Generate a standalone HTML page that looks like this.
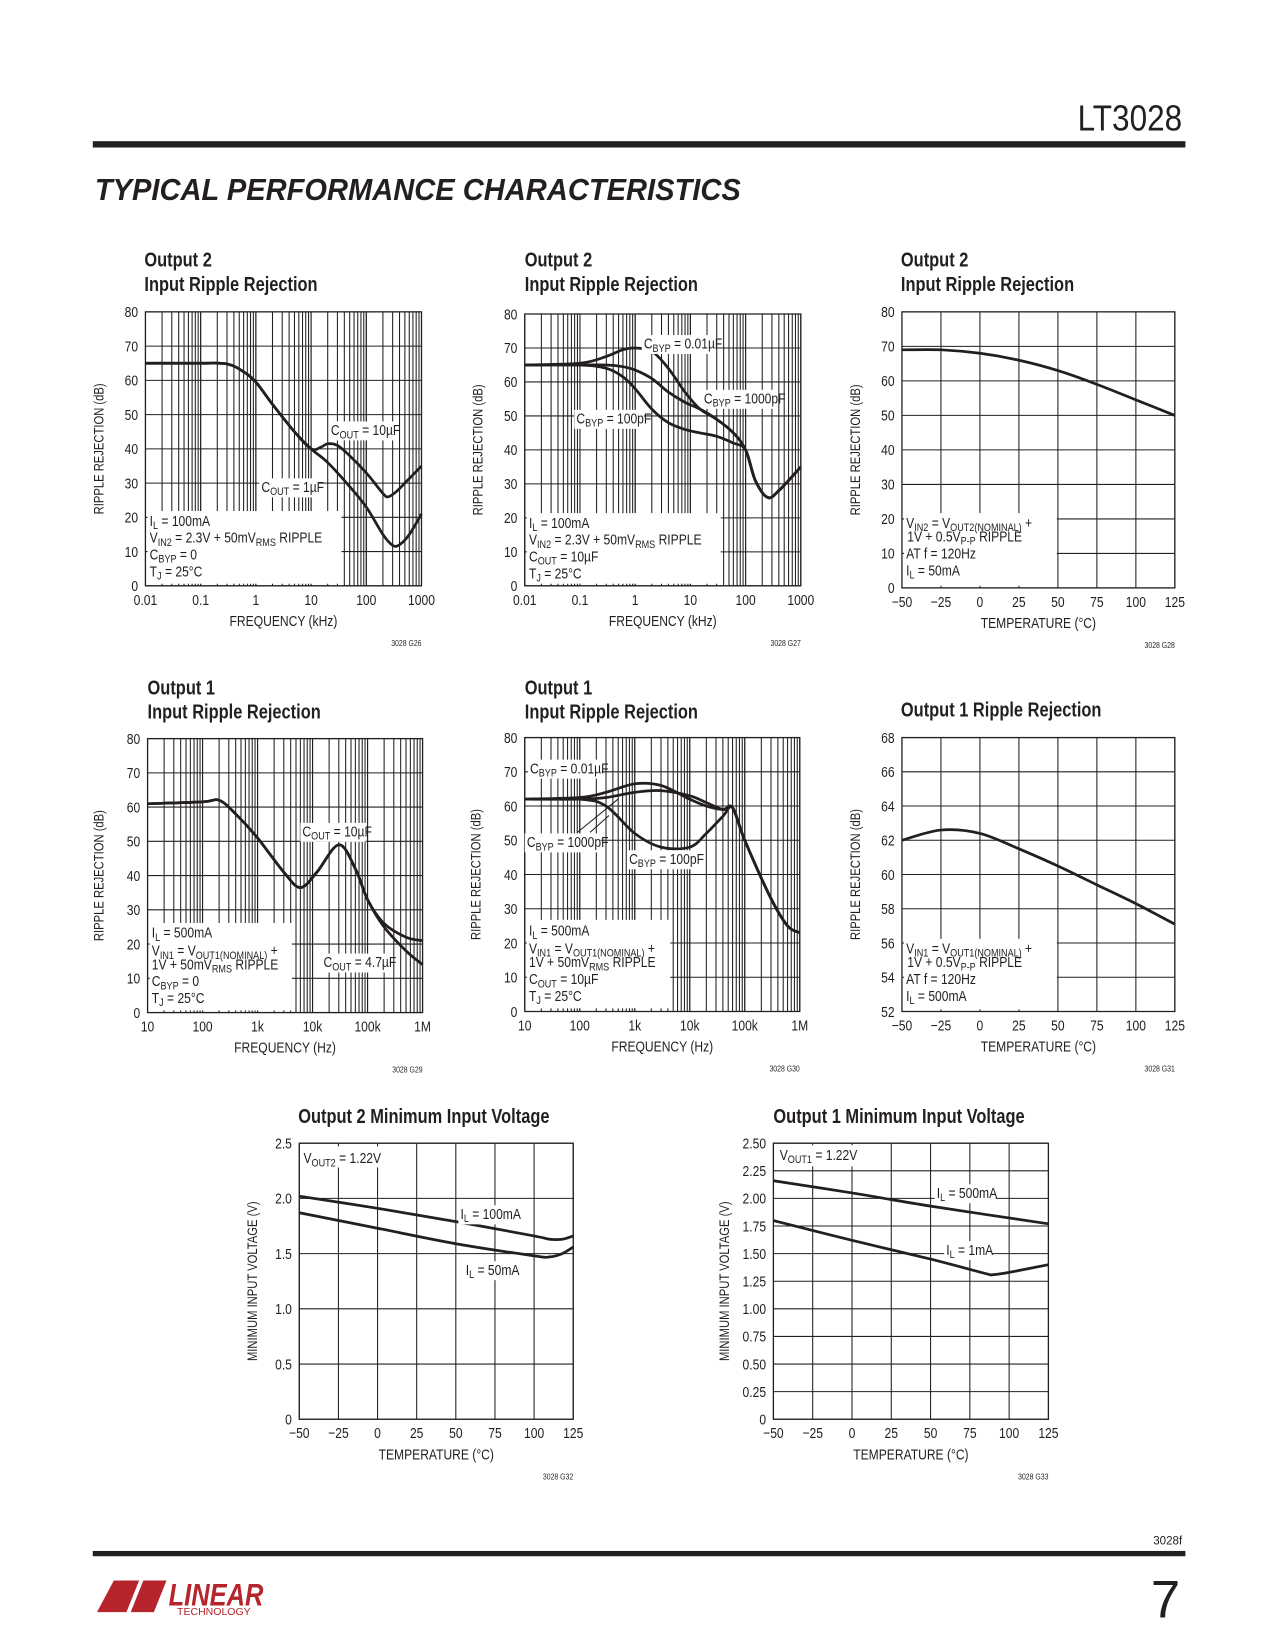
<!DOCTYPE html>
<html><head><meta charset="utf-8"><style>
html,body{margin:0;padding:0;background:#fff;}
svg{display:block;}
text{font-family:"Liberation Sans Narrow","Liberation Sans",sans-serif;fill:#231f20;}
</style></head><body>
<svg id="page" xmlns="http://www.w3.org/2000/svg" width="1275" height="1650" viewBox="0 0 1210 1566">
<text x="1122" y="124" text-anchor="end" font-size="34" style="font-family:'Liberation Sans',sans-serif" transform="matrix(0.88,0,0,1,134.6,0)">LT3028</text>
<rect x="88" y="134" width="1037" height="6" fill="#231f20"/>
<text x="90" y="190" font-size="29" font-weight="bold" font-style="italic" textLength="613" lengthAdjust="spacingAndGlyphs" style="font-family:'Liberation Sans',sans-serif">TYPICAL PERFORMANCE CHARACTERISTICS</text>
<rect x="88" y="1472" width="1037" height="5" fill="#231f20"/>
<text x="1122" y="1466" text-anchor="end" font-size="11">3028f</text>
<text x="1120" y="1535" text-anchor="end" font-size="50" style="font-family:'Liberation Sans',sans-serif">7</text>
<g>
<polygon points="92,1530 108,1500 132,1500 120,1530" fill="#b5252b"/>
<polygon points="124,1530 136,1500 158,1500 146,1530" fill="#b5252b"/>
<text x="160" y="1524" font-size="30" font-weight="bold" font-style="italic" textLength="90" lengthAdjust="spacingAndGlyphs" style="fill:#b5252b;font-family:'Liberation Sans',sans-serif">LINEAR</text>
<text x="168" y="1533" font-size="10" style="fill:#b5252b;font-family:'Liberation Sans',sans-serif">TECHNOLOGY</text>
</g>
<g id="charts"></g>
</svg>
<script>
// ---- chart data ----
// G26
const g26Freq = [0.01,0.1,0.3,0.6,1,2,5,10,15,20,30,50,100,200,250,350,500,1000];
const g26Cout10 = [65,65,64.8,62.5,59.5,53,45,40,40.5,41.5,41,38,33,27,26,27.5,30,35];
const g26Freq1 = [0.01,0.1,0.3,0.6,1,2,5,10,20,50,100,200,300,400,600,1000];
const g26Cout1 = [65,65,64.8,62.5,59.5,53,45,40,36,29,23,15,11.8,12,15,21];
// G27
const g27Freq = [0.01,0.1,0.3,0.6,1,2,4,8,15,30,60,100,150,250,400,1000];
const g27Byp001 = [65,65.5,67.5,69.5,70,69,64,57,52,49,45,40,31,26,28,35];
const g27Byp1000 = [65,65,65,64.5,63.5,61,57,54,52,49,45,40,31,26,28,35];
const g27Byp100 = [65,65,64,61.5,58,52,48,46,45,44,42,40,31,26,28,35];
// G28
const g28Temp = [-50,-25,0,25,50,75,100,125];
const g28Rej = [69,69,68,66,63,59,54.5,50];
// G29
const g29Freq = [10,100,200,400,1000,3000,6000,12000,30000,60000,100000,200000,500000,1000000];
const g29Cout10 = [61,61.5,62,58,51,41,36.5,41,49,42,33,26,22,21];
const g29Cout47 = [61,61.5,62,58,51,41,36.5,41,49,42,33,25,18,14];
// G30
const g30Freq = [10,100,300,1000,3000,10000,20000,40000,60000,100000,300000,600000,1000000];
const g30Byp001 = [62,62.5,64,66.5,66,62,60,59,59.5,50,33,25,23];
const g30Byp1000 = [62,62,62.5,64,64.5,63,61,59,59.5,50,33,25,23];
const g30Byp100 = [62,62,60,52,48,48,52,57,59.5,50,33,25,23];
// G31
const g31Temp = [-50,-25,0,25,50,75,100,125];
const g31Rej = [62,62.6,62.4,61.5,60.5,59.4,58.3,57.1];
// G32
const g32Temp = [-50,0,50,100,110,118,125];
const g32I100 = [2.02,1.91,1.79,1.66,1.63,1.63,1.66];
const g32I50 = [1.87,1.73,1.59,1.48,1.47,1.5,1.56];
// G33
const g33Temp = [-50,0,50,125];
const g33I500 = [2.16,2.05,1.93,1.77];
const g33TempB = [-50,0,50,85,90,100,125];
const g33I1 = [1.8,1.62,1.45,1.32,1.31,1.33,1.4];
// tick labels
const logKHzTicks = ["0.01","0.1","1","10","100","1000"];
const logHzTicks = ["10","100","1k","10k","100k","1M"];
const tempTicks = ["\u221250","\u221225","0","25","50","75","100","125"];
const rej80Ticks = ["0","10","20","30","40","50","60","70","80"];
const rej68Ticks = ["52","54","56","58","60","62","64","66","68"];
const v25Ticks = ["0","0.5","1.0","1.5","2.0","2.5"];
const v250Ticks = ["0","0.25","0.50","0.75","1.00","1.25","1.50","1.75","2.00","2.25","2.50"];

const NS="http://www.w3.org/2000/svg";
const SQ=0.82;
const root=document.getElementById('charts');
function el(tag,parent){const e=document.createElementNS(NS,tag);parent.appendChild(e);return e;}
function squash(t,x){t.setAttribute('transform','matrix('+SQ+',0,0,1,'+(x*(1-SQ)).toFixed(2)+',0)');}
function richText(parent,x,y,str,size,anchor){
  const t=el('text',parent);
  t.setAttribute('x',x);t.setAttribute('y',y);t.setAttribute('font-size',size);
  if(anchor)t.setAttribute('text-anchor',anchor);
  const parts=str.split(/(_\{[^}]*\})/);
  let prevSub=false;
  parts.forEach(p=>{
    if(!p)return;
    const s=el('tspan',t);
    if(p.startsWith('_{')){s.textContent=p.slice(2,-1);s.setAttribute('font-size',size*0.75);s.setAttribute('dy',3);prevSub=true;}
    else{s.textContent=p; if(prevSub)s.setAttribute('dy',-3);prevSub=false;}
  });
  squash(t,x);
  return t;
}
function smoothPath(pts){
  let d='M'+pts[0][0].toFixed(1)+','+pts[0][1].toFixed(1);
  for(let i=0;i<pts.length-1;i++){
    const p0=pts[i-1]||pts[i],p1=pts[i],p2=pts[i+1],p3=pts[i+2]||p2;
    const c1=[p1[0]+(p2[0]-p0[0])/6,p1[1]+(p2[1]-p0[1])/6];
    const c2=[p2[0]-(p3[0]-p1[0])/6,p2[1]-(p3[1]-p1[1])/6];
    d+=' C'+c1[0].toFixed(1)+','+c1[1].toFixed(1)+' '+c2[0].toFixed(1)+','+c2[1].toFixed(1)+' '+p2[0].toFixed(1)+','+p2[1].toFixed(1);
  }
  return d;
}
function chart(c){
  const g=el('g',root);
  
  
  const L=c.L,R=c.R,T=c.T,B=c.B;
  const xs=v=>c.log? L+(Math.log10(v)-Math.log10(c.xmin))/(Math.log10(c.xmax)-Math.log10(c.xmin))*(R-L) : L+(v-c.xmin)/(c.xmax-c.xmin)*(R-L);
  const ys=v=>B-(v-c.ymin)/(c.ymax-c.ymin)*(B-T);
  c.title.forEach((t,i)=>{
    const tt=el('text',g);
    
    
    tt.setAttribute('x',c.tx);tt.setAttribute('y',c.ty+i*23);tt.setAttribute('font-size',19);tt.setAttribute('font-weight','bold');tt.textContent=t;
    squash(tt,c.tx);
  });
  const grid=el('g',g);
  
  
  grid.setAttribute('stroke','#231f20');grid.setAttribute('stroke-width','1');
  const nd=c.yTicks.length-1;
  for(let i=0;i<=nd;i++){const v=c.ymin+(c.ymax-c.ymin)*i/nd;const ln=el('line',grid);ln.setAttribute('x1',L);ln.setAttribute('x2',R);ln.setAttribute('y1',ys(v));ln.setAttribute('y2',ys(v));}
  if(c.log){
    const d0=Math.log10(c.xmin),d1=Math.log10(c.xmax);
    for(let d=d0;d<d1;d++)for(let k=1;k<=10;k++){const v=k*Math.pow(10,d);const ln=el('line',grid);ln.setAttribute('x1',xs(v));ln.setAttribute('x2',xs(v));ln.setAttribute('y1',T);ln.setAttribute('y2',B);}
  } else {
    const n=c.xTicks.length-1;
    for(let i=0;i<=n;i++){const v=c.xmin+(c.xmax-c.xmin)*i/n;const ln=el('line',grid);ln.setAttribute('x1',xs(v));ln.setAttribute('x2',xs(v));ln.setAttribute('y1',T);ln.setAttribute('y2',B);}
  }
  c.yTicks.forEach((lab,i)=>{const v=c.ymin+(c.ymax-c.ymin)*i/nd;const t=el('text',g);
    
    
    t.setAttribute('x',L-7);t.setAttribute('y',ys(v)+5);t.setAttribute('font-size',14);t.setAttribute('text-anchor','end');t.textContent=lab;squash(t,L-7);});
  const nx=c.xTicks.length-1;
  c.xTicks.forEach((lab,i)=>{const px=L+(R-L)*i/nx;const t=el('text',g);
    
    
    t.setAttribute('x',px);t.setAttribute('y',B+18);t.setAttribute('font-size',14);t.setAttribute('text-anchor','middle');t.textContent=lab;squash(t,px);});
  const xt=el('text',g);
  
  
  xt.setAttribute('x',(L+R)/2);xt.setAttribute('y',B+38);xt.setAttribute('font-size',14);xt.setAttribute('text-anchor','middle');xt.textContent=c.xTitle;squash(xt,(L+R)/2);
  const yt=el('text',g);
  
  
  const yx=L-c.yOff,yy=(T+B)/2;
  yt.setAttribute('x',yx);yt.setAttribute('y',yy);yt.setAttribute('font-size',13);yt.setAttribute('text-anchor','middle');
  yt.setAttribute('transform','rotate(-90 '+yx+' '+yy+') matrix('+SQ+',0,0,1,'+(yx*(1-SQ)).toFixed(2)+',0)');yt.textContent=c.yTitle;
  const fid=el('text',g);
  
  
  fid.setAttribute('x',R);fid.setAttribute('y',B+57);fid.setAttribute('font-size',8);fid.setAttribute('text-anchor','end');fid.textContent=c.fig;squash(fid,R);
  (c.boxes||[]).forEach(b=>{const r=el('rect',g);
    
    
    r.setAttribute('x',b[0]);r.setAttribute('y',b[1]);r.setAttribute('width',b[2]);r.setAttribute('height',b[3]);r.setAttribute('fill','#fff');});
  c.series.forEach(s=>{
    const pts=s.x.map((v,i)=>[xs(v),ys(s.y[i])]);
    const p=el('path',g);
    
    
    p.setAttribute('d',smoothPath(pts));p.setAttribute('fill','none');p.setAttribute('stroke','#231f20');p.setAttribute('stroke-width','2.6');p.setAttribute('stroke-linejoin','round');
  });
  const fr=el('rect',g);
  
  
  fr.setAttribute('x',L);fr.setAttribute('y',T);fr.setAttribute('width',R-L);fr.setAttribute('height',B-T);fr.setAttribute('fill','none');fr.setAttribute('stroke','#231f20');fr.setAttribute('stroke-width','1.2');
  (c.labels||[]).forEach(l=>{
    if(l.bg){const r=el('rect',g);
      
      
      r.setAttribute('x',l.x-2);r.setAttribute('y',l.y-13);r.setAttribute('width',l.bg);r.setAttribute('height',18);r.setAttribute('fill','#fff');}
    const t=richText(g,l.x,l.y,l.t,14,l.a);
    
    
  });
  (c.arrows||[]).forEach(a=>{const ln=el('line',g);
    
    
    ln.setAttribute('x1',a[0]);ln.setAttribute('y1',a[1]);ln.setAttribute('x2',a[2]);ln.setAttribute('y2',a[3]);ln.setAttribute('stroke','#231f20');ln.setAttribute('stroke-width','1');});
}
const RR="RIPPLE REJECTION (dB)";
chart({name:'chart-g26',L:138,R:400,T:296,B:556,log:true,xmin:0.01,xmax:1000,ymin:0,ymax:80,tx:137,ty:253,title:["Output 2","Input Ripple Rejection"],
 xTicks:logKHzTicks,yTicks:rej80Ticks,xTitle:"FREQUENCY (kHz)",yTitle:RR,yOff:40,fig:"3028 G26",
 boxes:[[140,485,184,69]],
 series:[{name:'series-cout-10uf',x:g26Freq,y:g26Cout10},{name:'series-cout-1uf',x:g26Freq1,y:g26Cout1}],
 labels:[{x:142,y:499,t:"I_{L} = 100mA"},{x:142,y:515,t:"V_{IN2} = 2.3V + 50mV_{RMS} RIPPLE"},{x:142,y:531,t:"C_{BYP} = 0"},{x:142,y:547,t:"T_{J} = 25°C"},
  {x:314,y:413,t:"C_{OUT} = 10µF",bg:62},{x:248,y:467,t:"C_{OUT} = 1µF",bg:56}]});
chart({name:'chart-g27',L:498,R:760,T:298,B:556,log:true,xmin:0.01,xmax:1000,ymin:0,ymax:80,tx:498,ty:253,title:["Output 2","Input Ripple Rejection"],
 xTicks:logKHzTicks,yTicks:rej80Ticks,xTitle:"FREQUENCY (kHz)",yTitle:RR,yOff:40,fig:"3028 G27",
 boxes:[[500,487,184,67]],
 series:[{name:'series-cbyp-0.01uf',x:g27Freq,y:g27Byp001},{name:'series-cbyp-1000pf',x:g27Freq,y:g27Byp1000},{name:'series-cbyp-100pf',x:g27Freq,y:g27Byp100}],
 labels:[{x:502,y:501,t:"I_{L} = 100mA"},{x:502,y:517,t:"V_{IN2} = 2.3V + 50mV_{RMS} RIPPLE"},{x:502,y:533,t:"C_{OUT} = 10µF"},{x:502,y:549,t:"T_{J} = 25°C"},
  {x:611,y:331,t:"C_{BYP} = 0.01µF",bg:70},{x:668,y:383,t:"C_{BYP} = 1000pF",bg:72},{x:547,y:402,t:"C_{BYP} = 100pF",bg:66}]});
chart({name:'chart-g28',L:856,R:1115,T:296,B:558,log:false,xmin:-50,xmax:125,ymin:0,ymax:80,tx:855,ty:253,title:["Output 2","Input Ripple Rejection"],
 xTicks:tempTicks,yTicks:rej80Ticks,xTitle:"TEMPERATURE (°C)",yTitle:RR,yOff:40,fig:"3028 G28",
 boxes:[[858,487,145,69]],
 series:[{name:'series-rejection',x:g28Temp,y:g28Rej}],
 labels:[{x:860,y:501,t:"V_{IN2} = V_{OUT2(NOMINAL)} +"},{x:861,y:514,t:"1V + 0.5V_{P-P} RIPPLE"},{x:860,y:530,t:"AT f = 120Hz"},{x:860,y:546,t:"I_{L} = 50mA"}]});
chart({name:'chart-g29',L:140,R:401,T:701,B:961,log:true,xmin:10,xmax:1000000,ymin:0,ymax:80,tx:140,ty:659,title:["Output 1","Input Ripple Rejection"],
 xTicks:logHzTicks,yTicks:rej80Ticks,xTitle:"FREQUENCY (Hz)",yTitle:RR,yOff:42,fig:"3028 G29",
 boxes:[[142,876,135,83]],
 series:[{name:'series-cout-10uf',x:g29Freq,y:g29Cout10},{name:'series-cout-4.7uf',x:g29Freq,y:g29Cout47}],
 labels:[{x:144,y:890,t:"I_{L} = 500mA"},{x:144,y:907,t:"V_{IN1} = V_{OUT1(NOMINAL)} +"},{x:144,y:920,t:"1V + 50mV_{RMS} RIPPLE"},{x:144,y:936,t:"C_{BYP} = 0"},{x:144,y:952,t:"T_{J} = 25°C"},
  {x:287,y:794,t:"C_{OUT} = 10µF",bg:62},{x:307,y:918,t:"C_{OUT} = 4.7µF",bg:68}]});
chart({name:'chart-g30',L:498,R:759,T:700,B:960,log:true,xmin:10,xmax:1000000,ymin:0,ymax:80,tx:498,ty:659,title:["Output 1","Input Ripple Rejection"],
 xTicks:logHzTicks,yTicks:rej80Ticks,xTitle:"FREQUENCY (Hz)",yTitle:RR,yOff:42,fig:"3028 G30",
 boxes:[[500,873,136,84]],
 series:[{name:'series-cbyp-0.01uf',x:g30Freq,y:g30Byp001},{name:'series-cbyp-1000pf',x:g30Freq,y:g30Byp1000},{name:'series-cbyp-100pf',x:g30Freq,y:g30Byp100}],
 labels:[{x:502,y:888,t:"I_{L} = 500mA"},{x:502,y:905,t:"V_{IN1} = V_{OUT1(NOMINAL)} +"},{x:502,y:918,t:"1V + 50mV_{RMS} RIPPLE"},{x:502,y:934,t:"C_{OUT} = 10µF"},{x:502,y:950,t:"T_{J} = 25°C"},
  {x:503,y:734,t:"C_{BYP} = 0.01µF",bg:70},{x:500,y:804,t:"C_{BYP} = 1000pF",bg:72},{x:597,y:820,t:"C_{BYP} = 100pF",bg:66}],
 arrows:[[548,790,587,758],[560,790,578,774]]});
chart({name:'chart-g31',L:856,R:1115,T:700,B:960,log:false,xmin:-50,xmax:125,ymin:52,ymax:68,tx:855,ty:680,title:["Output 1 Ripple Rejection"],
 xTicks:tempTicks,yTicks:rej68Ticks,xTitle:"TEMPERATURE (°C)",yTitle:RR,yOff:40,fig:"3028 G31",
 boxes:[[858,891,145,67]],
 series:[{name:'series-rejection',x:g31Temp,y:g31Rej}],
 labels:[{x:860,y:905,t:"V_{IN1} = V_{OUT1(NOMINAL)} +"},{x:861,y:918,t:"1V + 0.5V_{P-P} RIPPLE"},{x:860,y:934,t:"AT f = 120Hz"},{x:860,y:950,t:"I_{L} = 500mA"}]});
chart({name:'chart-g32',L:284,R:544,T:1085,B:1347,log:false,xmin:-50,xmax:125,ymin:0,ymax:2.5,tx:283,ty:1066,title:["Output 2 Minimum Input Voltage"],
 xTicks:tempTicks,yTicks:v25Ticks,xTitle:"TEMPERATURE (°C)",yTitle:"MINIMUM INPUT VOLTAGE (V)",yOff:40,fig:"3028 G32",
 boxes:[[286,1088,84,20]],
 series:[{name:'series-il-100ma',x:g32Temp,y:g32I100},{name:'series-il-50ma',x:g32Temp,y:g32I50}],
 labels:[{x:288,y:1104,t:"V_{OUT2} = 1.22V"},{x:437,y:1157,t:"I_{L} = 100mA",bg:58},{x:442,y:1210,t:"I_{L} = 50mA",bg:52}]});
chart({name:'chart-g33',L:734,R:995,T:1085,B:1347,log:false,xmin:-50,xmax:125,ymin:0,ymax:2.5,tx:734,ty:1066,title:["Output 1 Minimum Input Voltage"],
 xTicks:tempTicks,yTicks:v250Ticks,xTitle:"TEMPERATURE (°C)",yTitle:"MINIMUM INPUT VOLTAGE (V)",yOff:42,fig:"3028 G33",
 boxes:[[736,1087,86,20]],
 series:[{name:'series-il-500ma',x:g33Temp,y:g33I500},{name:'series-il-1ma',x:g33TempB,y:g33I1}],
 labels:[{x:740,y:1101,t:"V_{OUT1} = 1.22V"},{x:889,y:1137,t:"I_{L} = 500mA",bg:58},{x:898,y:1191,t:"I_{L} = 1mA",bg:46}]});
</script>
</body></html>
